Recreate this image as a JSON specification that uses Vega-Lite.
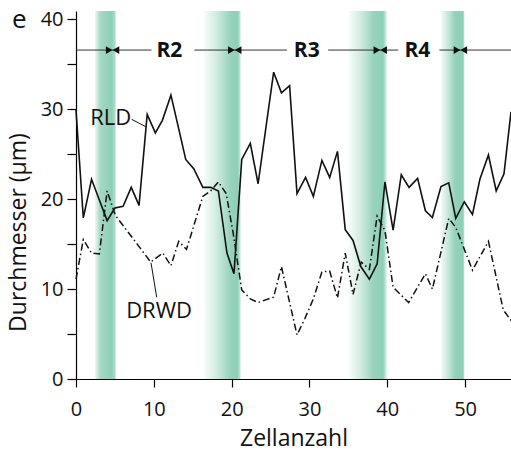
{
  "$schema": "https://vega.github.io/schema/vega-lite/v6.json",
  "width": 435,
  "height": 368,
  "autosize": "none",
  "padding": {"left": 76, "top": 11, "right": 0, "bottom": 72},
  "config": {
    "view": {"stroke": null},
    "font": "Open Sans",
    "axis": {
      "grid": false,
      "domainColor": "#000",
      "tickColor": "#000",
      "labelColor": "#111",
      "titleColor": "#111",
      "labelFont": "Open Sans",
      "titleFont": "Open Sans",
      "labelFontSize": 20,
      "titleFontSize": 23,
      "titleFontWeight": "normal",
      "domainWidth": 1.2,
      "tickWidth": 1.2
    }
  },
  "title": {
    "text": "e",
    "anchor": "start",
    "frame": "group",
    "fontSize": 26,
    "fontWeight": "normal",
    "font": "Open Sans",
    "color": "#111",
    "baseline": "alphabetic",
    "offset": 0,
    "dx": -64,
    "dy": 45
  },
  "datasets": {
    "rld": [
      {"x": 0, "y": 29.9}, {"x": 0.94, "y": 17.9}, {"x": 2.0, "y": 22.2}, {"x": 3.0, "y": 19.9},
      {"x": 4.0, "y": 17.6}, {"x": 5.0, "y": 19.0}, {"x": 6.05, "y": 19.2}, {"x": 7.1, "y": 21.3},
      {"x": 8.1, "y": 19.3}, {"x": 9.15, "y": 29.4}, {"x": 10.2, "y": 27.35}, {"x": 11.1, "y": 28.75},
      {"x": 12.2, "y": 31.55}, {"x": 13.15, "y": 28.0}, {"x": 14.1, "y": 24.4}, {"x": 15.15, "y": 23.35},
      {"x": 16.3, "y": 21.3}, {"x": 17.3, "y": 21.3}, {"x": 18.3, "y": 20.9}, {"x": 19.4, "y": 14.0},
      {"x": 20.3, "y": 11.7}, {"x": 21.3, "y": 24.4}, {"x": 22.4, "y": 26.2}, {"x": 23.4, "y": 21.7},
      {"x": 24.4, "y": 27.9}, {"x": 25.4, "y": 34.1}, {"x": 26.4, "y": 31.8}, {"x": 27.45, "y": 32.6},
      {"x": 28.4, "y": 20.6}, {"x": 29.5, "y": 22.4}, {"x": 30.5, "y": 20.3}, {"x": 31.6, "y": 24.3},
      {"x": 32.6, "y": 22.4}, {"x": 33.6, "y": 25.3}, {"x": 34.6, "y": 16.6}, {"x": 35.6, "y": 15.4},
      {"x": 36.6, "y": 12.5}, {"x": 37.7, "y": 11.1}, {"x": 38.7, "y": 12.8}, {"x": 39.7, "y": 21.9},
      {"x": 40.75, "y": 16.55}, {"x": 41.8, "y": 22.7}, {"x": 42.8, "y": 21.3}, {"x": 43.9, "y": 22.3},
      {"x": 44.9, "y": 18.7}, {"x": 45.8, "y": 17.95}, {"x": 46.9, "y": 21.4}, {"x": 47.9, "y": 21.8},
      {"x": 48.8, "y": 17.85}, {"x": 49.9, "y": 19.7}, {"x": 50.95, "y": 18.3}, {"x": 51.9, "y": 22.2},
      {"x": 53.0, "y": 24.9}, {"x": 54.0, "y": 20.9}, {"x": 55.0, "y": 22.8}, {"x": 55.9, "y": 29.7}
    ],
    "drwd": [
      {"x": 0, "y": 11.1}, {"x": 0.94, "y": 15.5}, {"x": 2.0, "y": 14.0}, {"x": 3.0, "y": 13.9},
      {"x": 4.0, "y": 20.9}, {"x": 5.05, "y": 18.2}, {"x": 9.6, "y": 13.0}, {"x": 11.15, "y": 14.0},
      {"x": 12.2, "y": 12.6}, {"x": 13.2, "y": 15.3}, {"x": 14.2, "y": 14.4}, {"x": 16.3, "y": 20.3},
      {"x": 17.3, "y": 20.9}, {"x": 18.3, "y": 21.9}, {"x": 19.3, "y": 20.6}, {"x": 20.2, "y": 16.2},
      {"x": 21.3, "y": 9.9}, {"x": 22.4, "y": 8.9}, {"x": 23.4, "y": 8.5}, {"x": 25.4, "y": 9.1},
      {"x": 26.4, "y": 12.5}, {"x": 28.4, "y": 4.9}, {"x": 29.4, "y": 6.7}, {"x": 30.5, "y": 8.9},
      {"x": 31.6, "y": 11.9}, {"x": 32.6, "y": 12.0}, {"x": 33.6, "y": 9.0}, {"x": 34.6, "y": 14.0},
      {"x": 35.6, "y": 9.4}, {"x": 36.65, "y": 13.0}, {"x": 37.7, "y": 12.2}, {"x": 38.7, "y": 18.1},
      {"x": 39.7, "y": 16.5}, {"x": 40.75, "y": 10.2}, {"x": 42.75, "y": 8.5}, {"x": 44.9, "y": 11.7},
      {"x": 45.8, "y": 10.0}, {"x": 47.9, "y": 17.85}, {"x": 48.8, "y": 16.85}, {"x": 50.95, "y": 12.1},
      {"x": 53.0, "y": 15.3}, {"x": 54.9, "y": 7.7}, {"x": 55.9, "y": 6.5}
    ],
    "bands": [
      {"band": 1, "x": 2.44, "x2": 5.1},
      {"band": 2, "x": 16.45, "x2": 21.17},
      {"band": 3, "x": 35.09, "x2": 39.94},
      {"band": 4, "x": 46.88, "x2": 49.91}
    ],
    "segs": [
      {"x": 0, "x2": 9.7, "y": 36.56},
      {"x": 15.2, "x2": 27.1, "y": 36.56},
      {"x": 32.4, "x2": 41.4, "y": 36.56},
      {"x": 46.7, "x2": 55.9, "y": 36.56}
    ],
    "heads": [
      {"x": 4.27, "y": 36.56, "dir": "r"}, {"x": 5.13, "y": 36.56, "dir": "l"},
      {"x": 19.97, "y": 36.56, "dir": "r"}, {"x": 20.83, "y": 36.56, "dir": "l"},
      {"x": 38.67, "y": 36.56, "dir": "r"}, {"x": 39.53, "y": 36.56, "dir": "l"},
      {"x": 48.97, "y": 36.56, "dir": "r"}, {"x": 49.83, "y": 36.56, "dir": "l"}
    ],
    "regions": [
      {"x": 12.0, "y": 35.78, "label": "R2"},
      {"x": 29.65, "y": 35.78, "label": "R3"},
      {"x": 43.87, "y": 35.78, "label": "R4"}
    ],
    "leaders": [
      {"x": 7.16, "y": 28.86, "x2": 9.0, "y2": 28.03},
      {"x": 9.64, "y": 12.92, "x2": 10.37, "y2": 9.08}
    ],
    "names": [
      {"x": 4.47, "y": 28.28, "label": "RLD"},
      {"x": 10.67, "y": 6.78, "label": "DRWD"}
    ]
  },
  "layer": [
    {
      "data": {"name": "bands"},
      "transform": [{"filter": "datum.band === 1"}],
      "mark": {"type": "rect", "fill": {"gradient": "linear", "x1": 0, "y1": 0, "x2": 1, "y2": 0,
        "stops": [{"offset": 0, "color": "#eef8f4"}, {"offset": 0.25, "color": "#a6d9c5"}, {"offset": 0.8, "color": "#8ecfb7"}, {"offset": 1, "color": "#b5e0cf"}]}},
      "encoding": {
        "x": {"field": "x", "type": "quantitative", "scale": {"domain": [0, 55.9], "nice": false, "zero": false}},
        "x2": {"field": "x2"}
      }
    },
    {
      "data": {"name": "bands"},
      "transform": [{"filter": "datum.band === 2"}],
      "mark": {"type": "rect", "fill": {"gradient": "linear", "x1": 0, "y1": 0, "x2": 1, "y2": 0,
        "stops": [{"offset": 0, "color": "#f7fcfa"}, {"offset": 0.3, "color": "#d6eee4"}, {"offset": 0.72, "color": "#97d3bc"}, {"offset": 0.92, "color": "#8ecfb7"}, {"offset": 1, "color": "#d8efe5"}]}},
      "encoding": {
        "x": {"field": "x", "type": "quantitative", "scale": {"domain": [0, 55.9], "nice": false, "zero": false}},
        "x2": {"field": "x2"}
      }
    },
    {
      "data": {"name": "bands"},
      "transform": [{"filter": "datum.band === 3"}],
      "mark": {"type": "rect", "fill": {"gradient": "linear", "x1": 0, "y1": 0, "x2": 1, "y2": 0,
        "stops": [{"offset": 0, "color": "#f7fcfa"}, {"offset": 0.3, "color": "#d2ece1"}, {"offset": 0.65, "color": "#97d3bc"}, {"offset": 0.9, "color": "#8ecfb7"}, {"offset": 1, "color": "#dff2ea"}]}},
      "encoding": {
        "x": {"field": "x", "type": "quantitative", "scale": {"domain": [0, 55.9], "nice": false, "zero": false}},
        "x2": {"field": "x2"}
      }
    },
    {
      "data": {"name": "bands"},
      "transform": [{"filter": "datum.band === 4"}],
      "mark": {"type": "rect", "fill": {"gradient": "linear", "x1": 0, "y1": 0, "x2": 1, "y2": 0,
        "stops": [{"offset": 0, "color": "#f5fbf8"}, {"offset": 0.35, "color": "#c0e5d6"}, {"offset": 0.6, "color": "#94d2ba"}, {"offset": 0.93, "color": "#8ecfb7"}, {"offset": 1, "color": "#c8e8db"}]}},
      "encoding": {
        "x": {"field": "x", "type": "quantitative", "scale": {"domain": [0, 55.9], "nice": false, "zero": false}},
        "x2": {"field": "x2"}
      }
    },
    {
      "encoding": {
        "x": {
          "field": "x",
          "type": "quantitative",
          "scale": {"domain": [0, 55.9], "nice": false, "zero": false},
          "axis": {
            "title": "Zellanzahl",
            "values": [0, 5, 10, 15, 20, 25, 30, 35, 40, 45, 50, 55],
            "labelExpr": "datum.value % 10 === 0 ? datum.label : ''",
            "tickSize": 8,
            "labelBaseline": "alphabetic",
            "labelPadding": 28,
            "labelFlush": false,
            "labelOverlap": false,
            "titleBaseline": "alphabetic",
            "titleY": 66
          }
        },
        "y": {
          "field": "y",
          "type": "quantitative",
          "scale": {"domain": [0, 40.9], "nice": false, "zero": false},
          "axis": {
            "title": "Durchmesser (µm)",
            "values": [0, 5, 10, 15, 20, 25, 30, 35, 40],
            "labelExpr": "datum.value % 10 === 0 ? datum.label : ''",
            "tickSize": 9,
            "labelPadding": 4,
            "labelFlush": false,
            "labelOverlap": false,
            "titleBaseline": "alphabetic",
            "titleX": -51,
            "titleY": 221
          }
        }
      },
      "layer": [
        {
          "data": {"name": "rld"},
          "mark": {"type": "line", "color": "#111", "strokeWidth": 1.6},
          "encoding": {}
        },
        {
          "data": {"name": "drwd"},
          "mark": {"type": "line", "color": "#111", "strokeWidth": 1.5, "strokeDash": [7, 3, 1.5, 3]},
          "encoding": {}
        },
        {
          "data": {"values": [{}]},
          "mark": {"type": "rule", "color": "#000", "strokeWidth": 1.2},
          "encoding": {"x": {"datum": 0}, "x2": {"datum": 55.9}, "y": {"datum": 40.9}}
        },
        {
          "data": {"name": "segs"},
          "mark": {"type": "rule", "color": "#333", "strokeWidth": 1},
          "encoding": {"x2": {"field": "x2"}}
        },
        {
          "data": {"name": "heads"},
          "mark": {"type": "point", "filled": true, "color": "#111", "size": 60, "opacity": 1},
          "encoding": {
            "shape": {"field": "dir", "type": "nominal", "scale": {"domain": ["r", "l"], "range": ["triangle-right", "triangle-left"]}, "legend": null}
          }
        },
        {
          "data": {"name": "regions"},
          "mark": {"type": "text", "font": "Open Sans", "fontSize": 21, "fontWeight": "bold", "color": "#111", "align": "center", "baseline": "alphabetic"},
          "encoding": {"text": {"field": "label"}}
        },
        {
          "data": {"name": "leaders"},
          "mark": {"type": "rule", "color": "#111", "strokeWidth": 1},
          "encoding": {"x2": {"field": "x2"}, "y2": {"field": "y2"}}
        },
        {
          "data": {"name": "names"},
          "mark": {"type": "text", "font": "Open Sans", "fontSize": 22, "color": "#111", "align": "center", "baseline": "alphabetic"},
          "encoding": {"text": {"field": "label"}}
        }
      ]
    }
  ]
}
